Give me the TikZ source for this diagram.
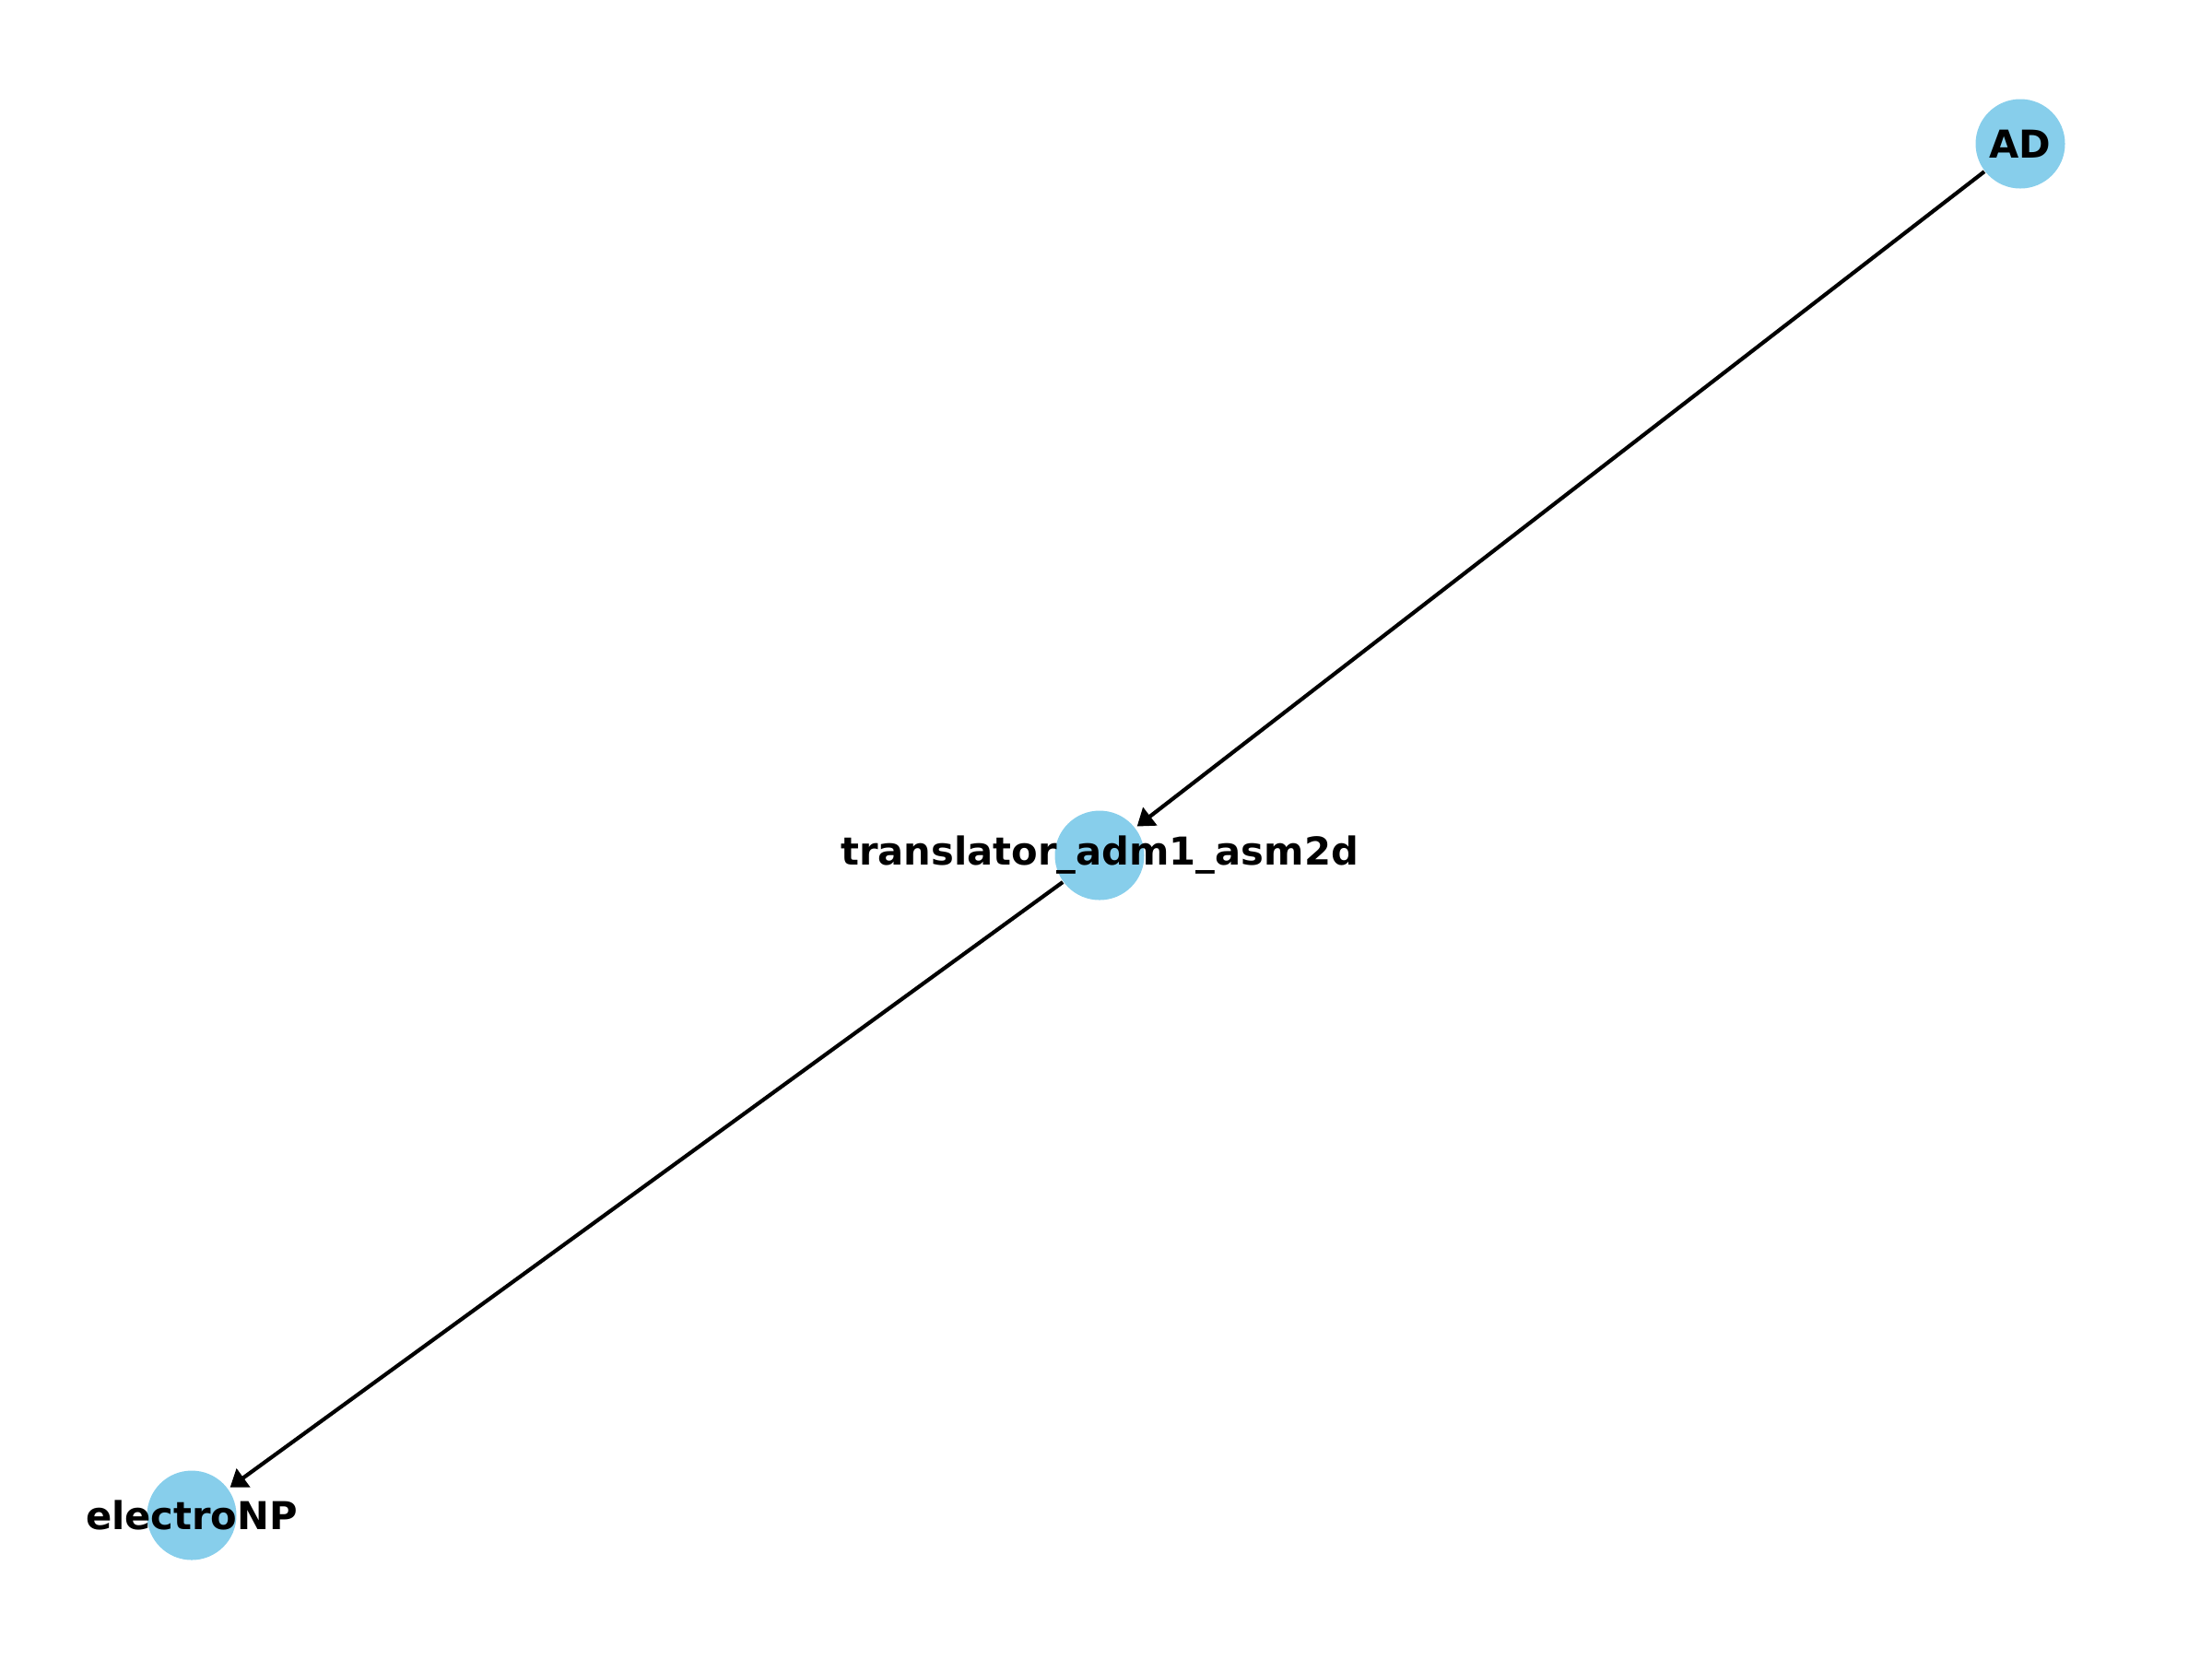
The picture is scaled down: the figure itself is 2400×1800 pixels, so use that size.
\documentclass[tikz,border=0pt]{standalone}
\usepackage{fontspec}
\setmainfont{DejaVu Sans}
\usetikzlibrary{arrows.meta}
\definecolor{skyblue}{HTML}{87CEEB}
\tikzset{
  vert/.style={circle, fill=skyblue, draw=none, minimum size=97*0.24pt, inner sep=0pt},
  lbl/.style={font=\fontsize{10}{12}\selectfont\bfseries, inner sep=0pt, text=black},
  edge/.style={draw=black, line width=1pt, -{Triangle[length=4.3pt,width=5.8pt]}, shorten >=0.5pt}
}
\begin{document}
\begin{tikzpicture}[x=0.24pt,y=-0.24pt]
\useasboundingbox (0,0) rectangle (2400,1800);
\node[vert] (ad) at (2192,156) {};
\node[vert] (tr) at (1193,928) {};
\node[vert] (en) at (208,1644) {};
\draw[edge] (ad) -- (tr);
\draw[edge] (tr) -- (en);
\node[lbl] (adl) at (ad.center) {AD};
\node[lbl] (trl) at (tr.center) {translator\_adm1\_asm2d};
\node[lbl] (enl) at (en.center) {electroNP};
\end{tikzpicture}
\end{document}
